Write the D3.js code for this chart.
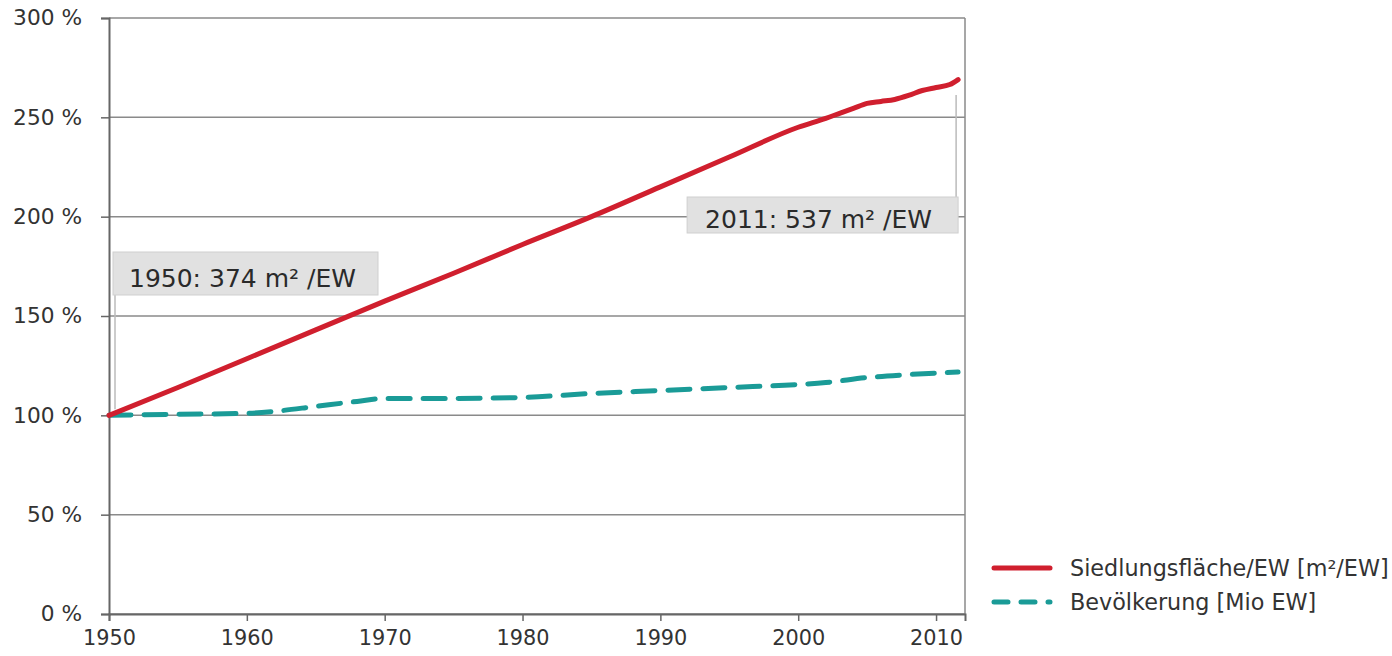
<!DOCTYPE html>
<html>
<head>
<meta charset="utf-8">
<script src="https://cdn.jsdelivr.net/npm/d3@7"></script>
<style>
  body { margin: 0; background: #fff; }
  svg text { font-family: "DejaVu Sans", Verdana, sans-serif; }
</style>
</head>
<body>
<script>
// Siedlungsfläche je Einwohner, Index 1950 = 100 %
let flaecheJahre = [1950, 1955, 1960, 1965, 1970, 1975, 1980, 1985, 1990, 1995, 2000, 2002, 2003, 2004, 2005, 2006, 2007, 2008, 2009, 2010, 2011, 2011.6];
let flaecheWerte = [100, 114, 128.5, 143, 157.5, 171.5, 186, 200, 215, 230, 245, 249.5, 252, 254.5, 257, 258, 259, 261, 263.5, 265, 266.5, 269];

// Bevölkerung, Index 1950 = 100 %
let bevJahre = [1950, 1955, 1960, 1962, 1965, 1968, 1970, 1972, 1975, 1980, 1985, 1990, 1995, 2000, 2002, 2005, 2008, 2011.6];
let bevWerte = [100, 100.5, 101, 102, 104.5, 107, 108.5, 108.5, 108.5, 109, 111, 112.5, 114, 115.5, 116.5, 119, 120.5, 121.8];

let yTicks = [0, 50, 100, 150, 200, 250, 300];
let xTicks = [1950, 1960, 1970, 1980, 1990, 2000, 2010];

let annotations = [
    { jahr: 1950, text: "1950: 374 m² /EW" },
    { jahr: 2011.6, text: "2011: 537 m² /EW" }
];

let legende = [
    { name: "Siedlungsfläche/EW [m²/EW]", color: "#d01f2e", dash: null },
    { name: "Bevölkerung [Mio EW]", color: "#1a9b97", dash: "22,13" }
];

let margin = { top: 18, right: 427, bottom: 42, left: 109 },
    width = 1392 - margin.left - margin.right,
    height = 656 - margin.top - margin.bottom;

let svg = d3.select("body").append("svg")
    .attr("width", 1392)
    .attr("height", 656)
  .append("g")
    .attr("transform", "translate(" + margin.left + "," + margin.top + ")");

let x = d3.scaleLinear().domain([1950, 2012.1]).range([0, width]);
let y = d3.scaleLinear().domain([0, 300]).range([height, 0]);

// gridlines
svg.selectAll(".grid")
    .data(yTicks)
  .enter().append("line")
    .attr("x1", 0).attr("x2", width)
    .attr("y1", d => y(d)).attr("y2", d => y(d))
    .attr("stroke", "#8a8a8a")
    .attr("stroke-width", 1.5);

// right frame
svg.append("line")
    .attr("x1", width).attr("x2", width)
    .attr("y1", 0).attr("y2", height)
    .attr("stroke", "#8a8a8a").attr("stroke-width", 1.5);

// axes
let yAxis = svg.append("g")
    .call(d3.axisLeft(y).tickValues(yTicks).tickSize(8).tickPadding(19).tickFormat(d => d + " %"));
let xAxis = svg.append("g")
    .attr("transform", "translate(0," + height + ")")
    .call(d3.axisBottom(x).tickValues(xTicks).tickSize(7).tickPadding(9).tickFormat(d3.format("d")));

[yAxis, xAxis].forEach(a => {
    a.attr("font-family", null).attr("font-size", null);
    a.select(".domain").attr("stroke", "#666").attr("stroke-width", 2);
    a.selectAll(".tick line").attr("stroke", "#666").attr("stroke-width", 1.5);
    a.selectAll(".tick text").attr("fill", "#333");
});
yAxis.selectAll(".tick text").style("font-size", "21.7px");
xAxis.selectAll(".tick text").style("font-size", "20.8px");

// Box 1950
let a1 = svg.append("g");
a1.append("line")
    .attr("x1", x(annotations[0].jahr) + 6).attr("x2", x(annotations[0].jahr) + 6)
    .attr("y1", 276).attr("y2", y(100) - 6)
    .attr("stroke", "#bbb").attr("stroke-width", 1.5);
a1.append("rect")
    .attr("x", x(annotations[0].jahr) + 4).attr("y", 234)
    .attr("width", 265).attr("height", 43)
    .attr("fill", "#e1e1e1").attr("stroke", "#cfcfcf");
a1.append("text")
    .attr("x", x(annotations[0].jahr) + 20).attr("y", 269)
    .attr("fill", "#2a2a2a").style("font-size", "25px")
    .text(annotations[0].text);

// Box 2011
let a2 = svg.append("g");
a2.append("line")
    .attr("x1", x(annotations[1].jahr) - 2).attr("x2", x(annotations[1].jahr) - 2)
    .attr("y1", 77).attr("y2", 180)
    .attr("stroke", "#bbb").attr("stroke-width", 1.5);
a2.append("rect")
    .attr("x", x(annotations[1].jahr) - 271).attr("y", 179)
    .attr("width", 271).attr("height", 36)
    .attr("fill", "#e1e1e1").attr("stroke", "#cfcfcf");
a2.append("text")
    .attr("x", x(annotations[1].jahr) - 253).attr("y", 210)
    .attr("fill", "#2a2a2a").style("font-size", "25px")
    .text(annotations[1].text);

// lines
let line = d3.line().x(d => x(d[0])).y(d => y(d[1])).curve(d3.curveMonotoneX);

svg.append("path")
    .datum(bevJahre.map((j, i) => [j, bevWerte[i]]))
    .attr("d", line)
    .attr("fill", "none")
    .attr("stroke", legende[1].color)
    .attr("stroke-width", 5)
    .attr("stroke-linecap", "round")
    .attr("stroke-dasharray", legende[1].dash);

svg.append("path")
    .datum(flaecheJahre.map((j, i) => [j, flaecheWerte[i]]))
    .attr("d", line)
    .attr("fill", "none")
    .attr("stroke", legende[0].color)
    .attr("stroke-width", 5)
    .attr("stroke-linecap", "round");

// legend
let leg = d3.select("svg").append("g")
    .attr("transform", "translate(994,568)");
let item = leg.selectAll("g")
    .data(legende)
  .enter().append("g")
    .attr("transform", (d, i) => "translate(0," + i * 34 + ")");
item.append("line")
    .attr("x1", 0).attr("x2", 56)
    .attr("stroke", d => d.color)
    .attr("stroke-width", 5)
    .attr("stroke-linecap", "round")
    .attr("stroke-dasharray", d => d.dash ? "14,13" : null);
item.append("text")
    .attr("x", 76).attr("y", 8)
    .attr("fill", "#333").style("font-size", "22.3px")
    .text(d => d.name);
</script>
</body>
</html>
